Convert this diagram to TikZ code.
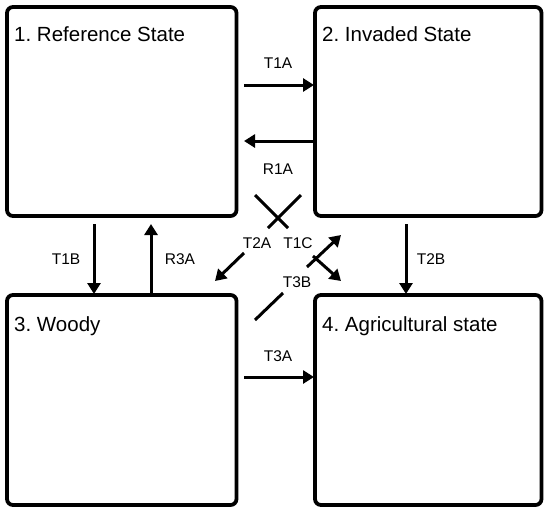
\documentclass[tikz,border=0pt]{standalone}
\usepackage{fontspec}
\setmainfont{Liberation Sans}
\usetikzlibrary{arrows.meta}
\frenchspacing
\begin{document}
\begin{tikzpicture}[x=1pt,y=-1pt,
  statebox/.style={draw,line width=3.8pt,rounded corners=6pt},
  boxtext/.style={anchor=base west,font=\fontsize{20.5}{23}\selectfont,inner sep=0pt},
  arr/.style={line width=3pt,-{Triangle[length=11pt,width=13pt]}},
  seg/.style={line width=3pt},
  lab/.style={font=\fontsize{15.5}{17}\selectfont,inner sep=0pt}]
\useasboundingbox (0,0) rectangle (544,509);
\draw[statebox] (7,7) rectangle (236.5,216) coordinate (b1);
\draw[statebox] (315,7) rectangle (541.5,216) coordinate (b2);
\draw[statebox] (7,295) rectangle (236.5,505) coordinate (b3);
\draw[statebox] (315,295) rectangle (541.5,505) coordinate (b4);
\node[boxtext] (t1) at (14,41) {1. Reference State};
\node[boxtext] (t2) at (322,41) {2. Invaded State};
\node[boxtext] (t3) at (14,331) {3. Woody};
\node[boxtext] (t4) at (322,331) {4. Agricultural state};
% horizontal
\coordinate (a1s) at (244,85); \coordinate (a1e) at (314,85);
\draw[arr] (a1s) -- (a1e);
\coordinate (r1s) at (314,141); \coordinate (r1e) at (244,141);
\draw[arr] (r1s) -- (r1e);
\coordinate (a3s) at (244,377); \coordinate (a3e) at (314,377);
\draw[arr] (a3s) -- (a3e);
% vertical
\coordinate (b1s) at (94,224); \coordinate (b1e) at (94,294);
\draw[arr] (b1s) -- (b1e);
\coordinate (r3s) at (151,294); \coordinate (r3e) at (151,224);
\draw[arr] (r3s) -- (r3e);
\coordinate (b2s) at (406,224); \coordinate (b2e) at (406,294);
\draw[arr] (b2s) -- (b2e);
% diagonals
\coordinate (x1s) at (255,195); \coordinate (x1e) at (288,228);
\draw[seg] (x1s) -- (x1e);
\coordinate (x2s) at (301,195); \coordinate (x2e) at (268,228);
\draw[seg] (x2s) -- (x2e);
\coordinate (d2as) at (244,253); \coordinate (d2ae) at (215,281);
\draw[arr] (d2as) -- (d2ae);
\coordinate (d1cs) at (313,256); \coordinate (d1ce) at (341,281);
\draw[arr] (d1cs) -- (d1ce);
\coordinate (d3bs) at (307,267); \coordinate (d3be) at (341,235);
\draw[arr] (d3bs) -- (d3be);
\coordinate (x3s) at (255,320); \coordinate (x3e) at (283,293);
\draw[seg] (x3s) -- (x3e);
% labels
\node[lab] (l1) at (278,63) {T1A};
\node[lab] (l2) at (278,169) {R1A};
\node[lab] (l3) at (66,259) {T1B};
\node[lab] (l4) at (180,259) {R3A};
\node[lab] (l5) at (257,243) {T2A};
\node[lab] (l6) at (298,243) {T1C};
\node[lab] (l7) at (297,282) {T3B};
\node[lab] (l8) at (431,259) {T2B};
\node[lab] (l9) at (278,356) {T3A};
\end{tikzpicture}
\end{document}
